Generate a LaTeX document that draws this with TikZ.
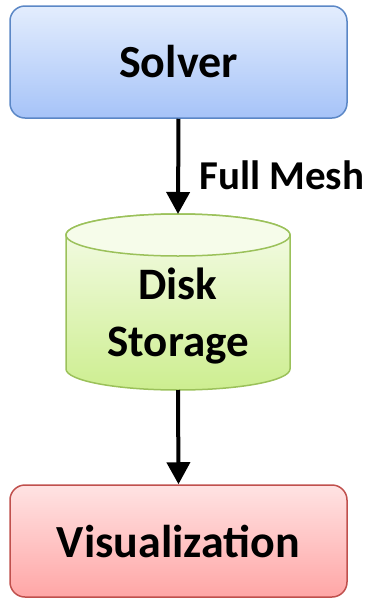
\documentclass[tikz,border=0pt]{standalone}
\usepackage{fontspec}
\setmainfont{Carlito}
\usetikzlibrary{arrows.meta}
\definecolor{bluetop}{HTML}{E3EDFD}
\definecolor{bluebot}{HTML}{A6C3F8}
\definecolor{blueline}{HTML}{5B87C6}
\definecolor{greentop}{HTML}{F6FCEA}
\definecolor{greenbot}{HTML}{CDEE90}
\definecolor{greenline}{HTML}{9BC15A}
\definecolor{redtop}{HTML}{FFE3E3}
\definecolor{redbot}{HTML}{FFA6A6}
\definecolor{redline}{HTML}{C0504D}
\tikzset{
  box/.style={rectangle, rounded corners=15pt, line width=1.5pt, minimum width=337pt, minimum height=112pt, inner sep=0pt,
    font=\fontsize{46}{55}\selectfont\bfseries},
  flow/.style={line width=4pt, -{Triangle[width=23pt,length=22pt]}},
  lbl/.style={inner sep=0pt, font=\fontsize{41}{49}\selectfont\bfseries}
}
\begin{document}
\begin{tikzpicture}[x=1pt,y=-1pt]
\useasboundingbox (0,0) rectangle (373,598);
% Solver
\node[box, draw=blueline, top color=bluetop, bottom color=bluebot] (solver) at (178.5,62) {Solver};
% Visualization
\node[box, draw=redline, top color=redtop, bottom color=redbot] (vis) at (178.5,541) {Visualization};
% Disk storage cylinder
\path[top color=greentop, bottom color=greenbot, draw=greenline, line width=1.5pt]
  (66,235) -- (66,369) arc[start angle=180, end angle=360, x radius=112, y radius=-21] -- (290,235)
  arc[start angle=0, end angle=180, x radius=112, y radius=-21] -- cycle;
\draw[greenline, line width=1.5pt, fill=greentop] (178,235) ellipse[x radius=112, y radius=21];
\coordinate (disktop) at (178,214);
\coordinate (diskbot) at (178,390);
\node[inner sep=0pt, align=center, font=\fontsize{45}{57}\selectfont\bfseries] (disk) at (178,316) {Disk\\Storage};
% connectors
\draw[flow] (solver.south) -- (disktop);
\draw[flow] (diskbot) -- (vis.north);
\node[lbl, anchor=base west] (fm) at (199,189) {Full Mesh};
\end{tikzpicture}
\end{document}
